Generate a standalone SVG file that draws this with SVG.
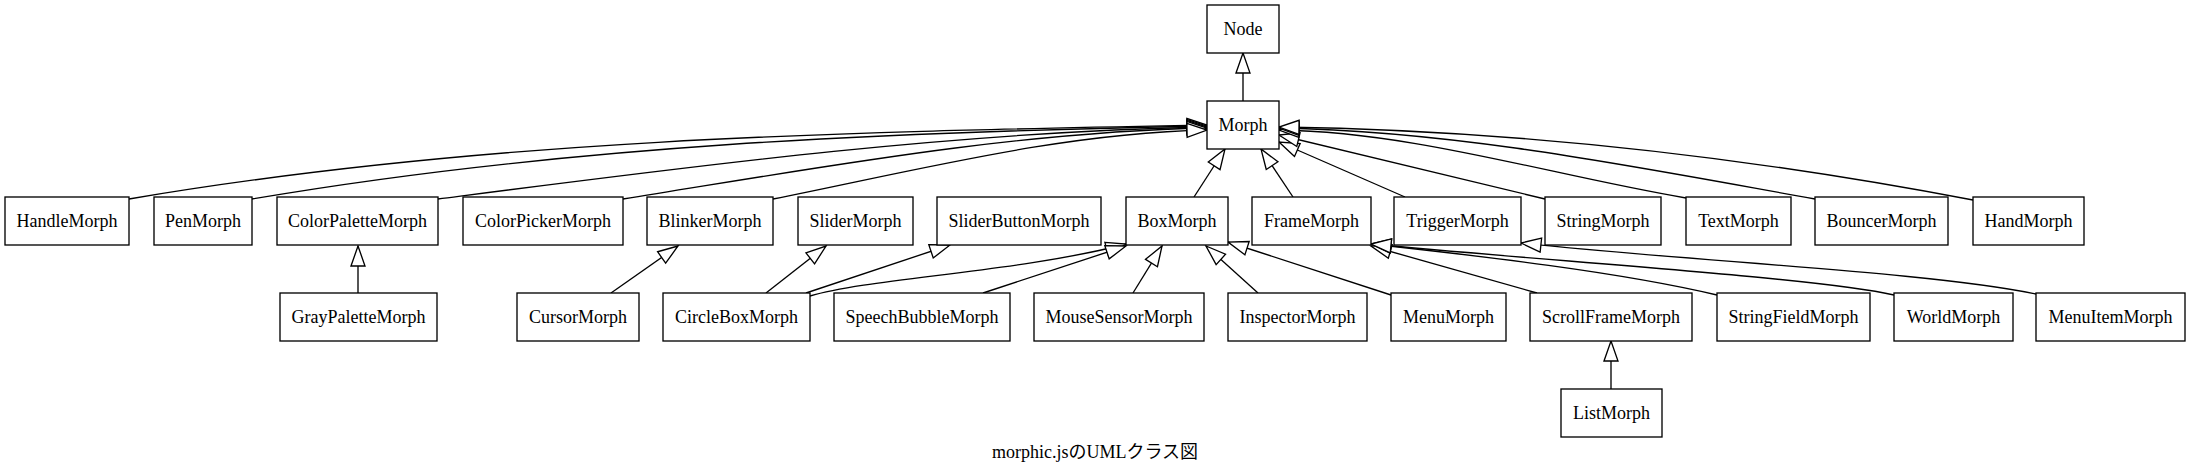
<svg xmlns="http://www.w3.org/2000/svg" width="2191" height="473" viewBox="0 0 2191 473">
<style>
.n rect{fill:#fff;stroke:#000;stroke-width:1.33}
.n text,.t{font-family:"Liberation Serif","Noto Sans CJK JP",serif;font-size:18px;text-anchor:middle;fill:#000}
.e path{fill:none;stroke:#000;stroke-width:1.33;marker-end:url(#inh)}
</style>
<defs>
<marker id="inh" markerUnits="userSpaceOnUse" markerWidth="24" markerHeight="20" refX="20" refY="8" orient="auto" overflow="visible">
<path d="M0,1 L20,8 L0,15 Z" fill="#fff" stroke="#000" stroke-width="1.33"/>
</marker>
</defs>
<rect width="2191" height="473" fill="#fff"/>
<g id="edges" class="e">
<path d="M1243,101 L1243,53"/>
<path d="M129,199 C488,138 848,132 1207,125"/>
<path d="M252,199 C570,145 889,132 1207,126"/>
<path d="M438,199 C694,166 951,132 1207,127"/>
<path d="M623,199 C818,168 1012,132 1207,128"/>
<path d="M773,199 C918,170 1062,133 1207,130"/>
<path d="M1194,197 L1225,149"/>
<path d="M1293,197 L1261,149"/>
<path d="M1405,197 L1279,142"/>
<path d="M1545,199 L1279,135"/>
<path d="M1686,198 C1550,175 1415,132 1279,130"/>
<path d="M1815,199 C1636,167 1458,131 1279,128"/>
<path d="M1973,200 C1742,156 1510,130 1279,127"/>
<path d="M358,293 L358,246"/>
<path d="M611,293 L678,246"/>
<path d="M766,293 L826,246"/>
<path d="M806,293 L950,245"/>
<path d="M810,296 C870,278 1020,272 1126,244"/>
<path d="M983,293 L1126,246"/>
<path d="M1133,293 L1162,246"/>
<path d="M1258,293 L1206,246"/>
<path d="M1391,295 L1228,242"/>
<path d="M1537,293 L1371,246"/>
<path d="M1717,295 C1620,272 1480,256 1371,244"/>
<path d="M1894,295 C1820,278 1560,262 1371,244"/>
<path d="M2036,294 C1930,272 1700,262 1521,243"/>
<path d="M1611,389 L1611,341"/>
</g>
<g id="Node" class="n"><rect x="1207" y="5" width="72" height="48"/><text x="1243" y="35">Node</text></g>
<g id="Morph" class="n"><rect x="1207" y="101" width="72" height="48"/><text x="1243" y="131">Morph</text></g>
<g id="HandleMorph" class="n"><rect x="5" y="197" width="124" height="48"/><text x="67" y="227">HandleMorph</text></g>
<g id="PenMorph" class="n"><rect x="154" y="197" width="98" height="48"/><text x="203" y="227">PenMorph</text></g>
<g id="ColorPaletteMorph" class="n"><rect x="277" y="197" width="161" height="48"/><text x="357.5" y="227">ColorPaletteMorph</text></g>
<g id="ColorPickerMorph" class="n"><rect x="463" y="197" width="160" height="48"/><text x="543" y="227">ColorPickerMorph</text></g>
<g id="BlinkerMorph" class="n"><rect x="647" y="197" width="126" height="48"/><text x="710" y="227">BlinkerMorph</text></g>
<g id="SliderMorph" class="n"><rect x="798" y="197" width="115" height="48"/><text x="855.5" y="227">SliderMorph</text></g>
<g id="SliderButtonMorph" class="n"><rect x="937" y="197" width="164" height="48"/><text x="1019" y="227">SliderButtonMorph</text></g>
<g id="BoxMorph" class="n"><rect x="1126" y="197" width="102" height="48"/><text x="1177" y="227">BoxMorph</text></g>
<g id="FrameMorph" class="n"><rect x="1252" y="197" width="119" height="48"/><text x="1311.5" y="227">FrameMorph</text></g>
<g id="TriggerMorph" class="n"><rect x="1394" y="197" width="127" height="48"/><text x="1457.5" y="227">TriggerMorph</text></g>
<g id="StringMorph" class="n"><rect x="1545" y="197" width="116" height="48"/><text x="1603" y="227">StringMorph</text></g>
<g id="TextMorph" class="n"><rect x="1686" y="197" width="105" height="48"/><text x="1738.5" y="227">TextMorph</text></g>
<g id="BouncerMorph" class="n"><rect x="1815" y="197" width="133" height="48"/><text x="1881.5" y="227">BouncerMorph</text></g>
<g id="HandMorph" class="n"><rect x="1973" y="197" width="111" height="48"/><text x="2028.5" y="227">HandMorph</text></g>
<g id="GrayPaletteMorph" class="n"><rect x="280" y="293" width="157" height="48"/><text x="358.5" y="323">GrayPaletteMorph</text></g>
<g id="CursorMorph" class="n"><rect x="517" y="293" width="122" height="48"/><text x="578" y="323">CursorMorph</text></g>
<g id="CircleBoxMorph" class="n"><rect x="663" y="293" width="147" height="48"/><text x="736.5" y="323">CircleBoxMorph</text></g>
<g id="SpeechBubbleMorph" class="n"><rect x="834" y="293" width="176" height="48"/><text x="922" y="323">SpeechBubbleMorph</text></g>
<g id="MouseSensorMorph" class="n"><rect x="1034" y="293" width="170" height="48"/><text x="1119" y="323">MouseSensorMorph</text></g>
<g id="InspectorMorph" class="n"><rect x="1228" y="293" width="139" height="48"/><text x="1297.5" y="323">InspectorMorph</text></g>
<g id="MenuMorph" class="n"><rect x="1391" y="293" width="115" height="48"/><text x="1448.5" y="323">MenuMorph</text></g>
<g id="ScrollFrameMorph" class="n"><rect x="1530" y="293" width="162" height="48"/><text x="1611" y="323">ScrollFrameMorph</text></g>
<g id="StringFieldMorph" class="n"><rect x="1717" y="293" width="153" height="48"/><text x="1793.5" y="323">StringFieldMorph</text></g>
<g id="WorldMorph" class="n"><rect x="1894" y="293" width="119" height="48"/><text x="1953.5" y="323">WorldMorph</text></g>
<g id="MenuItemMorph" class="n"><rect x="2036" y="293" width="149" height="48"/><text x="2110.5" y="323">MenuItemMorph</text></g>
<g id="ListMorph" class="n"><rect x="1561" y="389" width="101" height="48"/><text x="1611.5" y="419">ListMorph</text></g>
<text class="t" x="1095" y="458">morphic.jsのUMLクラス図</text>
</svg>
